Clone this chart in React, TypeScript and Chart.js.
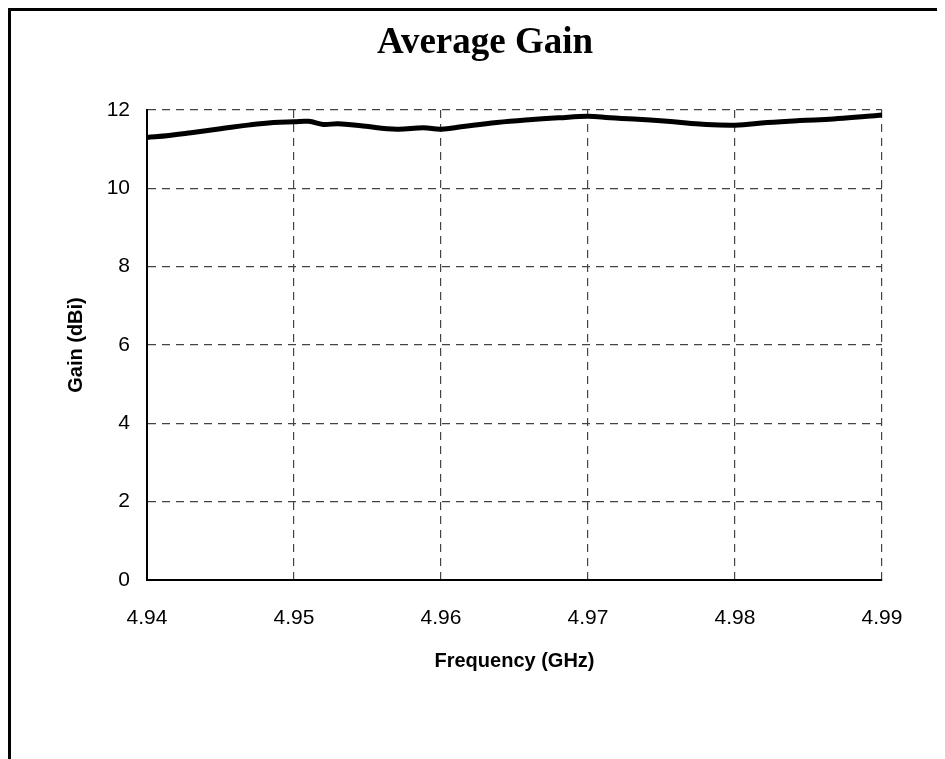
import React, { useEffect, useRef } from "react";
import { Chart, registerables } from "chart.js";

Chart.register(...registerables);

const TITLE = "Average Gain";
const X_TITLE = "Frequency (GHz)";
const Y_TITLE = "Gain (dBi)";

const freq = [
  4.94, 4.9415, 4.943, 4.945, 4.947, 4.9486, 4.95, 4.951, 4.952, 4.953,
  4.9547, 4.957, 4.9588, 4.96, 4.9615, 4.9638, 4.966, 4.968, 4.97, 4.9715,
  4.9731, 4.9754, 4.9776, 4.98, 4.9822, 4.9844, 4.9867, 4.989, 4.99,
];
const gain = [
  11.3, 11.35, 11.42, 11.52, 11.62, 11.68, 11.7, 11.71, 11.63, 11.65,
  11.59, 11.51, 11.55, 11.51, 11.58, 11.68, 11.75, 11.8, 11.84, 11.8,
  11.77, 11.71, 11.64, 11.61, 11.68, 11.73, 11.77, 11.84, 11.87,
];
const xTicks = [4.94, 4.95, 4.96, 4.97, 4.98, 4.99];
const yTicks = [0, 2, 4, 6, 8, 10, 12];

const titlePlugin = {
  id: "serifTitle",
  afterDraw(chart: any) {
    const ctx = chart.ctx;
    ctx.save();
    ctx.font = "bold 37px 'Liberation Serif'";
    ctx.fillStyle = "#000";
    ctx.textAlign = "center";
    ctx.textBaseline = "alphabetic";
    ctx.fillText(TITLE, 474, 42);
    ctx.restore();
  },
};

export default function App() {
  const ref = useRef<HTMLCanvasElement | null>(null);

  useEffect(() => {
    if (!ref.current) return;
    const chart = new Chart(ref.current, {
      type: "line",
      data: {
        datasets: [
          {
            data: freq.map((f, i) => ({ x: f, y: gain[i] })),
            borderColor: "#000",
            borderWidth: 5,
            pointRadius: 0,
            tension: 0.4,
            fill: false,
          },
        ],
      },
      plugins: [titlePlugin],
      options: {
        animation: false,
        responsive: false,
        maintainAspectRatio: false,
        layout: { padding: { left: 0, right: 63, top: 99, bottom: 0 } },
        plugins: {
          legend: { display: false },
          tooltip: { enabled: false },
          title: { display: false },
        },
        scales: {
          x: {
            type: "linear",
            min: xTicks[0],
            max: xTicks[xTicks.length - 1],
            afterBuildTicks: (s: any) => {
              s.ticks = xTicks.map((v) => ({ value: v }));
            },
            afterFit: (s: any) => {
              s.height = 179;
            },
            ticks: {
              color: "#000",
              font: { family: "Liberation Sans", size: 21 },
              padding: 26,
              maxRotation: 0,
              autoSkip: false,
              callback: (v: any) => Number(v).toFixed(2),
            },
            grid: { color: "#444", lineWidth: 1.2, drawTicks: false },
            border: { display: true, color: "#000", width: 2, dash: [8, 6] },
            title: {
              display: true,
              text: X_TITLE,
              color: "#000",
              font: { family: "Liberation Sans", size: 20, weight: "bold" },
              padding: { top: 0, bottom: 86 },
            },
          },
          y: {
            type: "linear",
            min: 0,
            max: 12,
            afterBuildTicks: (s: any) => {
              s.ticks = yTicks.map((v) => ({ value: v }));
            },
            afterFit: (s: any) => {
              s.width = 136;
            },
            ticks: {
              color: "#000",
              font: { family: "Liberation Sans", size: 21 },
              padding: 17,
            },
            grid: { color: "#444", lineWidth: 1.2, drawTicks: false },
            border: { display: true, color: "#000", width: 2, dash: [8, 6] },
            title: {
              display: true,
              text: Y_TITLE,
              color: "#000",
              font: { family: "Liberation Sans", size: 20, weight: "bold" },
              padding: { top: 53, bottom: 0 },
            },
          },
        },
      },
    });
    return () => chart.destroy();
  }, []);

  return (
    <div
      style={{
        width: 934,
        height: 748,
        borderTop: "3px solid #000",
        borderLeft: "3px solid #000",
        background: "#fff",
      }}
    >
      <canvas ref={ref} width={934} height={748} style={{ display: "block" }} />
    </div>
  );
}
